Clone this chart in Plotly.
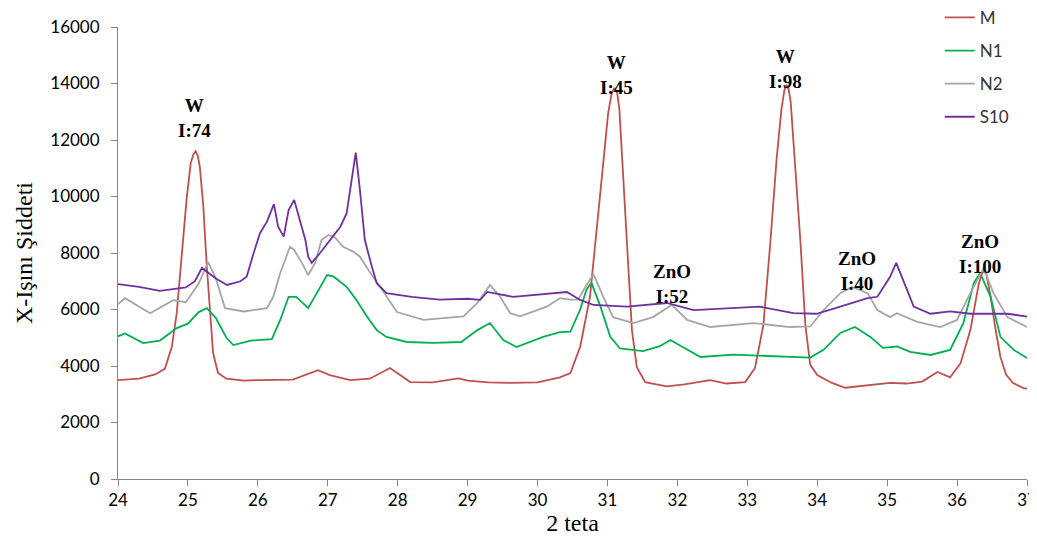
import plotly.graph_objects as go

# ---- data ----
m_x = [24.0, 24.3, 24.53, 24.67, 24.77, 24.84, 24.91, 24.98, 25.04, 25.08, 25.11, 25.14, 25.17, 25.22,
       25.27, 25.32, 25.36, 25.43, 25.55, 25.8,
       26.0, 26.5, 26.86, 27.03, 27.32, 27.6, 27.89, 28.18, 28.5, 28.87, 29.0, 29.3, 29.6, 30.0, 30.32,
       30.47, 30.61, 30.75, 30.85, 30.94, 31.01, 31.06, 31.10, 31.14, 31.17, 31.23, 31.29, 31.35, 31.42,
       31.54, 31.68, 31.85,
       32.1, 32.47, 32.7, 32.97, 33.11, 33.23, 33.33, 33.42, 33.49, 33.53, 33.56, 33.59, 33.62, 33.68,
       33.76, 33.83, 33.90, 34.0, 34.21,
       34.4, 34.7, 35.04, 35.28, 35.5, 35.72, 35.90, 36.05, 36.19, 36.31, 36.37, 36.42, 36.48, 36.55,
       36.62, 36.7, 36.8, 36.95, 37.0]
m_y = [3500, 3550, 3700, 3900, 4680, 5870, 7870, 9880, 11190, 11500, 11600, 11450, 11060, 9640,
       7520, 5750, 4460, 3750, 3550, 3480,
       3500, 3520, 3850, 3680, 3500, 3550, 3930, 3430, 3420, 3560, 3480, 3420, 3400, 3420, 3600,
       3750, 4680, 6450, 8810, 11190, 12960, 13650, 13840, 13650, 13100, 10580, 7650, 5270, 3960,
       3430, 3360, 3280,
       3350, 3500, 3380, 3430, 3930, 5450, 8390, 11360, 13130, 13750, 13950, 13800, 13360, 11360,
       8390, 5450, 4040, 3680, 3400,
       3230, 3300, 3400, 3380, 3450, 3790, 3600, 4100, 5270, 6900, 7380, 7250, 6450, 5300,
       4320, 3700, 3400, 3220, 3200]

n1_x = [24.0, 24.1, 24.36, 24.6, 24.84, 25.0, 25.15, 25.27, 25.4, 25.55, 25.65, 25.9, 26.2, 26.32, 26.44,
        26.55, 26.72, 26.84, 26.99, 27.08, 27.27, 27.41, 27.56, 27.70, 27.84, 28.13, 28.5, 28.91, 29.14,
        29.32, 29.51, 29.70, 30.08, 30.32, 30.47, 30.61, 30.70, 30.77, 30.90, 31.04, 31.18, 31.51, 31.75,
        31.90, 32.14, 32.33, 32.8, 33.18, 33.61, 33.90, 34.09, 34.33, 34.54, 34.76, 34.94, 35.14, 35.33,
        35.62, 35.90, 36.09, 36.24, 36.33, 36.48, 36.62, 36.81, 37.0]
n1_y = [5050, 5150, 4810, 4900, 5340, 5500, 5900, 6050, 5700, 5000, 4740, 4900, 4950, 5630, 6450,
        6450, 6050, 6580, 7220, 7170, 6800, 6340, 5750, 5270, 5030, 4850, 4820, 4850, 5270,
        5520, 4920, 4670, 5030, 5200, 5220, 6000, 6700, 6950, 6100, 5030, 4620, 4530, 4700,
        4920, 4570, 4320, 4400, 4360, 4320, 4300, 4570, 5170, 5380, 5030, 4640, 4690, 4500,
        4390, 4570, 5520, 6940, 7290, 6450, 5030, 4570, 4280]

n2_x = [24.0, 24.1, 24.46, 24.79, 24.97, 25.15, 25.29, 25.4, 25.53, 25.8, 26.13, 26.22, 26.32, 26.46,
        26.52, 26.63, 26.72, 26.82, 26.91, 27.01, 27.10, 27.22, 27.37, 27.46, 27.61, 27.75, 27.99, 28.37,
        28.94, 29.14, 29.32, 29.45, 29.61, 29.75, 30.13, 30.32, 30.47, 30.58, 30.71, 30.80, 30.94, 31.08,
        31.37, 31.65, 31.92, 32.14, 32.47, 33.09, 33.61, 33.90, 34.09, 34.33, 34.50, 34.72, 34.86, 35.04,
        35.14, 35.43, 35.76, 36.0, 36.19, 36.38, 36.52, 36.72, 37.0]
n2_y = [6190, 6400, 5870, 6330, 6260, 6900, 7680, 7100, 6050, 5930, 6050, 6450, 7290, 8220,
        8100, 7650, 7220, 7650, 8460, 8640, 8560, 8220, 8040, 7870, 7290, 6800, 5910, 5630,
        5760, 6230, 6870, 6500, 5870, 5760, 6100, 6400, 6350, 6350, 6900, 7250, 6450, 5730,
        5520, 5730, 6160, 5630, 5380, 5520, 5380, 5400, 5980, 6580, 6800, 6580, 5980, 5730,
        5870, 5560, 5380, 5630, 6580, 7470, 6580, 5730, 5380]

s10_x = [24.0, 24.3, 24.6, 24.97, 25.1, 25.20, 25.4, 25.56, 25.75, 25.84, 25.94, 26.03, 26.13, 26.23,
         26.29, 26.37, 26.44, 26.52, 26.60, 26.68, 26.72, 26.77, 26.89, 27.03, 27.18, 27.27, 27.34, 27.40,
         27.46, 27.53, 27.63, 27.70, 27.84, 28.2, 28.6, 29.0, 29.18, 29.28, 29.65, 30.22, 30.42, 30.61,
         30.80, 31.28, 31.85, 32.23, 33.18, 33.66, 33.99, 34.33, 34.72, 34.86, 35.04, 35.13, 35.24, 35.38,
         35.62, 35.90, 36.19, 36.72, 37.0]
s10_y = [6900, 6800, 6660, 6780, 7000, 7470, 7100, 6870, 7000, 7160, 8000, 8700, 9110, 9730,
         8930, 8580, 9520, 9880, 9170, 8460, 7870, 7650, 8000, 8460, 8930, 9410, 10580, 11550,
         10230, 8460, 7520, 6930, 6580, 6450, 6350, 6380, 6340, 6620, 6450, 6580, 6620, 6340,
         6160, 6100, 6230, 5980, 6100, 5870, 5850, 6100, 6400, 6450, 7150, 7650, 6940, 6100,
         5850, 5930, 5850, 5850, 5750]

series_names = ["M", "N1", "N2", "S10"]
series_colors = ["#C0504D", "#00B050", "#A6A6A6", "#7030A0"]

ann_x = [25.10, 31.13, 33.55, 31.93, 34.57, 36.33]
ann_y = [12780, 14300, 14500, 6900, 7350, 7950]
ann_text = ["<b>W<br>I:74</b>", "<b>W<br>I:45</b>", "<b>W<br>I:98</b>",
            "<b>ZnO<br>I:52</b>", "<b>ZnO<br>I:40</b>", "<b>ZnO<br>I:100</b>"]

x_ticks = list(range(24, 38))
y_ticks = list(range(0, 16001, 2000))

fig = go.Figure()
for name, xs, ys, col in zip(series_names, [m_x, n1_x, n2_x, s10_x], [m_y, n1_y, n2_y, s10_y], series_colors):
    fig.add_trace(go.Scatter(x=xs, y=ys, mode="lines", name=name, legendgroup=name,
                             line=dict(color=col, width=1.8)))

for tx, ty, tt in zip(ann_x, ann_y, ann_text):
    fig.add_annotation(x=tx, y=ty, text=tt, showarrow=False, xanchor="center", yanchor="middle",
                       font=dict(family="Liberation Serif", size=19, color="black"))

fig.update_layout(
    width=1037, height=546,
    margin=dict(l=110, r=18, t=19, b=75, autoexpand=False),
    paper_bgcolor="white", plot_bgcolor="white",
    legend=dict(x=0.904, y=1.06, xanchor="left", yanchor="top",
                traceorder="grouped", tracegroupgap=8,
                font=dict(family="Lato", size=17, color="#333333"),
                bgcolor="rgba(0,0,0,0)"),
    xaxis=dict(range=[24, 37], tickvals=x_ticks, ticks="outside", ticklen=6, tickcolor="#868686",
               showline=True, linecolor="#868686", linewidth=1, showgrid=False, zeroline=False,
               tickfont=dict(family="Liberation Sans Narrow, Lato", size=17, color="black"),
               title=dict(text="2 teta", font=dict(family="Liberation Serif", size=24, color="black"),
                          standoff=2)),
    yaxis=dict(range=[0, 16000], tickvals=y_ticks, tickformat="d", ticks="outside", ticklen=6,
               tickcolor="#868686", ticklabelstandoff=8,
               showline=True, linecolor="#868686", linewidth=1, showgrid=False, zeroline=False,
               tickfont=dict(family="Lato", size=17, color="black"),
               title=dict(text="X-Işını Şiddeti", font=dict(family="Liberation Serif", size=24, color="black"),
                          standoff=10)),
)

fig.write_html("out.html")
